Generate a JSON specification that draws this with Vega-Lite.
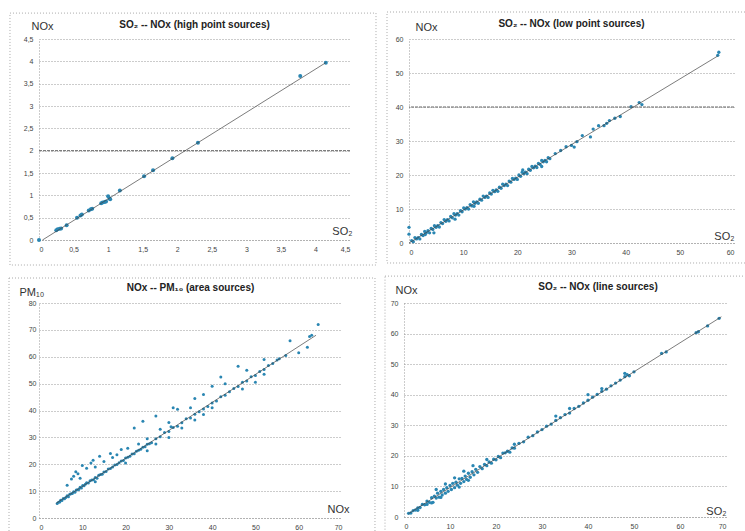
{
  "$schema": "https://vega.github.io/schema/vega-lite/v6.json",
  "autosize": {"type": "pad"},
  "padding": {"left": 8, "top": 11, "right": 0, "bottom": 0},
  "background": "white",
  "config": {
    "font": "Liberation Sans",
    "view": {"stroke": null},
    "axis": {
      "labelFont": "Liberation Sans",
      "labelFontSize": 7,
      "labelColor": "#444",
      "labelOverlap": false,
      "tickCount": 30,
      "ticks": false,
      "domainColor": "#999",
      "domainDash": [1, 2],
      "gridColor": "#999",
      "gridDash": [1, 2],
      "gridWidth": 1,
      "titleFont": "Liberation Sans",
      "titleFontWeight": "normal",
      "titleFontSize": 11,
      "titleColor": "#333"
    },
    "axisX": {"grid": false, "labelPadding": 5},
    "axisY": {"grid": true, "labelPadding": 6, "titleAngle": 0, "titleAlign": "left", "titleBaseline": "alphabetic"},
    "title": {"font": "Liberation Sans", "fontSize": 10, "fontWeight": "bold", "color": "#222", "frame": "group", "anchor": "middle"}
  },
  "datasets": {
    "one": [{}],
    "p1": [
      {"so2": 0, "nox": 0}, {"so2": 0.25, "nox": 0.22}, {"so2": 0.27, "nox": 0.24}, {"so2": 0.3, "nox": 0.25}, {"so2": 0.32, "nox": 0.26},
      {"so2": 0.4, "nox": 0.33}, {"so2": 0.55, "nox": 0.5}, {"so2": 0.6, "nox": 0.55}, {"so2": 0.62, "nox": 0.57}, {"so2": 0.72, "nox": 0.66},
      {"so2": 0.75, "nox": 0.69}, {"so2": 0.77, "nox": 0.7}, {"so2": 0.9, "nox": 0.82}, {"so2": 0.92, "nox": 0.84}, {"so2": 0.95, "nox": 0.85},
      {"so2": 0.97, "nox": 0.86}, {"so2": 1.0, "nox": 0.98}, {"so2": 1.02, "nox": 0.93}, {"so2": 1.03, "nox": 0.91}, {"so2": 1.17, "nox": 1.11},
      {"so2": 1.52, "nox": 1.43}, {"so2": 1.65, "nox": 1.56}, {"so2": 1.93, "nox": 1.83}, {"so2": 2.3, "nox": 2.18}, {"so2": 3.78, "nox": 3.67},
      {"so2": 4.15, "nox": 3.97}
    ],
    "l1": [{"so2": 0.05, "nox": 0}, {"so2": 4.15, "nox": 3.97}],
    "p2": [
      {"so2": 0.5, "nox": 0.7}, {"so2": 0.8, "nox": 0.4}, {"so2": 1.1, "nox": 1.6}, {"so2": 1.4, "nox": 1.2}, {"so2": 1.7, "nox": 1.6},
      {"so2": 2.0, "nox": 1.2}, {"so2": 2.3, "nox": 2.5}, {"so2": 2.6, "nox": 2.2}, {"so2": 2.9, "nox": 3.4}, {"so2": 3.2, "nox": 3.0},
      {"so2": 3.5, "nox": 3.6}, {"so2": 3.8, "nox": 3.0}, {"so2": 4.1, "nox": 4.3}, {"so2": 4.4, "nox": 4.0}, {"so2": 4.7, "nox": 5.1},
      {"so2": 5.0, "nox": 4.6}, {"so2": 5.3, "nox": 5.1}, {"so2": 5.6, "nox": 4.7}, {"so2": 5.9, "nox": 6.0}, {"so2": 6.2, "nox": 5.7},
      {"so2": 6.5, "nox": 6.9}, {"so2": 6.8, "nox": 6.4}, {"so2": 7.1, "nox": 6.9}, {"so2": 7.4, "nox": 6.5}, {"so2": 7.7, "nox": 7.8},
      {"so2": 8.0, "nox": 7.4}, {"so2": 8.3, "nox": 8.6}, {"so2": 8.6, "nox": 8.2}, {"so2": 8.9, "nox": 8.6}, {"so2": 9.2, "nox": 8.2},
      {"so2": 9.5, "nox": 9.5}, {"so2": 9.8, "nox": 9.2}, {"so2": 10.1, "nox": 10.3}, {"so2": 10.4, "nox": 10.0}, {"so2": 10.7, "nox": 10.4},
      {"so2": 11.0, "nox": 10.0}, {"so2": 11.3, "nox": 11.3}, {"so2": 11.6, "nox": 10.9}, {"so2": 11.9, "nox": 12.1}, {"so2": 12.2, "nox": 11.7},
      {"so2": 12.5, "nox": 12.1}, {"so2": 12.8, "nox": 11.7}, {"so2": 13.1, "nox": 12.9}, {"so2": 13.4, "nox": 12.6}, {"so2": 13.7, "nox": 13.8},
      {"so2": 14.0, "nox": 13.4}, {"so2": 14.3, "nox": 13.8}, {"so2": 14.6, "nox": 13.4}, {"so2": 14.9, "nox": 14.7}, {"so2": 15.2, "nox": 14.4},
      {"so2": 15.5, "nox": 15.5}, {"so2": 15.8, "nox": 15.1}, {"so2": 16.1, "nox": 15.6}, {"so2": 16.4, "nox": 15.2}, {"so2": 16.7, "nox": 16.4},
      {"so2": 17.0, "nox": 16.1}, {"so2": 17.3, "nox": 17.3}, {"so2": 17.6, "nox": 16.9}, {"so2": 17.9, "nox": 17.3}, {"so2": 18.2, "nox": 16.9},
      {"so2": 18.5, "nox": 18.2}, {"so2": 18.8, "nox": 17.9}, {"so2": 19.1, "nox": 19.0}, {"so2": 19.4, "nox": 18.7}, {"so2": 19.7, "nox": 19.1},
      {"so2": 20.0, "nox": 18.7}, {"so2": 20.3, "nox": 20.0}, {"so2": 20.6, "nox": 19.6}, {"so2": 20.9, "nox": 20.8}, {"so2": 21.2, "nox": 20.4},
      {"so2": 21.5, "nox": 20.8}, {"so2": 21.8, "nox": 20.4}, {"so2": 22.1, "nox": 21.7}, {"so2": 22.4, "nox": 21.4}, {"so2": 22.7, "nox": 22.5},
      {"so2": 23.0, "nox": 22.1}, {"so2": 23.3, "nox": 22.6}, {"so2": 23.6, "nox": 22.2}, {"so2": 23.9, "nox": 23.4}, {"so2": 24.2, "nox": 23.1},
      {"so2": 24.5, "nox": 24.3}, {"so2": 24.8, "nox": 23.9}, {"so2": 25.1, "nox": 24.3}, {"so2": 25.4, "nox": 23.9}, {"so2": 25.7, "nox": 25.1},
      {"so2": 26.0, "nox": 24.8}, {"so2": 3.0, "nox": 2.5}, {"so2": 4.6, "nox": 3.0}, {"so2": 8.5, "nox": 7.0}, {"so2": 12.0, "nox": 10.8},
      {"so2": 21.0, "nox": 21.5}, {"so2": 24.5, "nox": 22.5}, {"so2": 0, "nox": 4.6}, {"so2": 0, "nox": 2.6}, {"so2": 27.0, "nox": 26.3},
      {"so2": 28.0, "nox": 27.2}, {"so2": 29.0, "nox": 28.3}, {"so2": 30.0, "nox": 28.7}, {"so2": 30.5, "nox": 28.2}, {"so2": 31.0, "nox": 29.8},
      {"so2": 32.0, "nox": 31.6}, {"so2": 33.5, "nox": 31.2}, {"so2": 34.0, "nox": 33.5}, {"so2": 35.0, "nox": 34.5}, {"so2": 36.0, "nox": 34.5},
      {"so2": 36.5, "nox": 35.2}, {"so2": 37.0, "nox": 36.0}, {"so2": 38.0, "nox": 36.7}, {"so2": 39.0, "nox": 37.2}, {"so2": 41.0, "nox": 40.1},
      {"so2": 42.5, "nox": 41.3}, {"so2": 43.0, "nox": 40.7}, {"so2": 57.0, "nox": 55.2}, {"so2": 57.2, "nox": 56.1}
    ],
    "l2": [{"so2": 0, "nox": 0}, {"so2": 57, "nox": 55}],
    "p3": [
      {"nox": 4.2, "pm10": 5.4}, {"nox": 4.5, "pm10": 5.9}, {"nox": 4.8, "pm10": 6.0}, {"nox": 5.0, "pm10": 6.6}, {"nox": 5.3, "pm10": 6.5},
      {"nox": 5.6, "pm10": 7.3}, {"nox": 5.9, "pm10": 7.2}, {"nox": 6.2, "pm10": 7.6}, {"nox": 6.5, "pm10": 8.3}, {"nox": 6.8, "pm10": 7.9},
      {"nox": 7.1, "pm10": 8.8}, {"nox": 7.4, "pm10": 9.0}, {"nox": 7.7, "pm10": 9.1}, {"nox": 8.0, "pm10": 9.8}, {"nox": 8.3, "pm10": 9.6},
      {"nox": 8.6, "pm10": 10.4}, {"nox": 8.9, "pm10": 10.5}, {"nox": 9.2, "pm10": 10.6}, {"nox": 9.5, "pm10": 11.4}, {"nox": 9.8, "pm10": 11.2},
      {"nox": 10.1, "pm10": 12.1}, {"nox": 10.4, "pm10": 12.0}, {"nox": 10.7, "pm10": 12.6}, {"nox": 11.0, "pm10": 13.1}, {"nox": 11.4, "pm10": 13.0},
      {"nox": 11.8, "pm10": 13.9}, {"nox": 12.2, "pm10": 14.1}, {"nox": 12.6, "pm10": 14.2}, {"nox": 13.0, "pm10": 15.1}, {"nox": 13.4, "pm10": 14.8},
      {"nox": 13.8, "pm10": 15.9}, {"nox": 14.2, "pm10": 16.2}, {"nox": 14.6, "pm10": 16.3}, {"nox": 15.0, "pm10": 17.1}, {"nox": 15.5, "pm10": 17.3},
      {"nox": 16.0, "pm10": 18.2}, {"nox": 16.5, "pm10": 18.4}, {"nox": 17.0, "pm10": 19.0}, {"nox": 17.5, "pm10": 19.7}, {"nox": 18.0, "pm10": 19.9},
      {"nox": 18.5, "pm10": 20.6}, {"nox": 19.0, "pm10": 21.2}, {"nox": 19.5, "pm10": 21.4}, {"nox": 20.0, "pm10": 22.3}, {"nox": 20.5, "pm10": 22.6},
      {"nox": 21.0, "pm10": 23.0}, {"nox": 21.5, "pm10": 23.8}, {"nox": 22.0, "pm10": 23.9}, {"nox": 22.5, "pm10": 24.8}, {"nox": 23.0, "pm10": 25.2},
      {"nox": 23.5, "pm10": 25.6}, {"nox": 24.0, "pm10": 26.3}, {"nox": 24.5, "pm10": 26.5}, {"nox": 25.0, "pm10": 27.4}, {"nox": 25.5, "pm10": 27.6},
      {"nox": 26.0, "pm10": 28.0}, {"nox": 27.0, "pm10": 29.5}, {"nox": 28.0, "pm10": 30.2}, {"nox": 29.0, "pm10": 31.8}, {"nox": 30.0, "pm10": 32.2},
      {"nox": 31.0, "pm10": 33.7}, {"nox": 32.0, "pm10": 34.1}, {"nox": 33.0, "pm10": 35.4}, {"nox": 34.0, "pm10": 36.9}, {"nox": 35.0, "pm10": 37.2},
      {"nox": 36.0, "pm10": 38.6}, {"nox": 37.0, "pm10": 39.5}, {"nox": 38.0, "pm10": 40.6}, {"nox": 39.0, "pm10": 41.5}, {"nox": 40.0, "pm10": 42.8},
      {"nox": 41.0, "pm10": 43.5}, {"nox": 42.0, "pm10": 45.1}, {"nox": 43.0, "pm10": 45.7}, {"nox": 44.0, "pm10": 47.0}, {"nox": 45.0, "pm10": 48.2},
      {"nox": 46.0, "pm10": 48.9}, {"nox": 47.0, "pm10": 50.5}, {"nox": 48.0, "pm10": 51.0}, {"nox": 49.0, "pm10": 52.6}, {"nox": 50.0, "pm10": 53.0},
      {"nox": 51.0, "pm10": 54.5}, {"nox": 52.0, "pm10": 55.3}, {"nox": 53.0, "pm10": 56.7}, {"nox": 54.0, "pm10": 57.5}, {"nox": 55.0, "pm10": 58.8},
      {"nox": 55.5, "pm10": 59.3},
      {"nox": 6.5, "pm10": 12.2}, {"nox": 7.5, "pm10": 14.5}, {"nox": 8.0, "pm10": 15.5}, {"nox": 9.0, "pm10": 16.5}, {"nox": 9.5, "pm10": 14.8},
      {"nox": 8.5, "pm10": 17.2}, {"nox": 10.0, "pm10": 19.5}, {"nox": 11.0, "pm10": 18.5}, {"nox": 12.0, "pm10": 20.5}, {"nox": 13.0, "pm10": 19.0},
      {"nox": 14.0, "pm10": 23.0}, {"nox": 12.5, "pm10": 21.5}, {"nox": 15.0, "pm10": 21.0}, {"nox": 16.5, "pm10": 24.0}, {"nox": 17.0, "pm10": 22.5},
      {"nox": 18.0, "pm10": 23.5}, {"nox": 19.0, "pm10": 25.5}, {"nox": 20.5, "pm10": 26.0}, {"nox": 22.0, "pm10": 33.5}, {"nox": 23.0, "pm10": 27.5},
      {"nox": 24.0, "pm10": 36.0}, {"nox": 25.0, "pm10": 29.5}, {"nox": 27.0, "pm10": 38.0}, {"nox": 28.0, "pm10": 33.0}, {"nox": 30.0, "pm10": 35.5},
      {"nox": 31.0, "pm10": 41.0}, {"nox": 32.0, "pm10": 40.5}, {"nox": 35.0, "pm10": 41.0}, {"nox": 36.0, "pm10": 44.5}, {"nox": 38.0, "pm10": 46.0},
      {"nox": 40.0, "pm10": 49.0}, {"nox": 42.0, "pm10": 52.5}, {"nox": 43.0, "pm10": 50.0}, {"nox": 46.0, "pm10": 56.5}, {"nox": 48.0, "pm10": 55.0},
      {"nox": 52.0, "pm10": 59.0}, {"nox": 58.0, "pm10": 66.0}, {"nox": 62.0, "pm10": 63.5}, {"nox": 62.5, "pm10": 67.5}, {"nox": 63.0, "pm10": 68.0},
      {"nox": 64.5, "pm10": 72.0}, {"nox": 57.0, "pm10": 60.5}, {"nox": 60.0, "pm10": 61.5},
      {"nox": 25.0, "pm10": 25.0}, {"nox": 27.0, "pm10": 27.5}, {"nox": 30.0, "pm10": 30.0}, {"nox": 33.0, "pm10": 33.5}, {"nox": 36.0, "pm10": 36.5},
      {"nox": 38.0, "pm10": 38.5}, {"nox": 40.0, "pm10": 41.0}, {"nox": 47.0, "pm10": 48.0}, {"nox": 50.0, "pm10": 50.5}, {"nox": 52.0, "pm10": 53.5},
      {"nox": 13.0, "pm10": 13.5}, {"nox": 20.0, "pm10": 20.5}, {"nox": 30.5, "pm10": 34.0}
    ],
    "l3": [{"nox": 4, "pm10": 5.5}, {"nox": 64, "pm10": 68}],
    "p4": [
      {"so2": 1.0, "nox": 1.2}, {"so2": 1.5, "nox": 1.3}, {"so2": 2.0, "nox": 2.1}, {"so2": 2.5, "nox": 2.3}, {"so2": 3.0, "nox": 3.0},
      {"so2": 3.5, "nox": 3.1}, {"so2": 4.0, "nox": 4.1}, {"so2": 4.5, "nox": 4.0}, {"so2": 5.0, "nox": 5.2}, {"so2": 5.5, "nox": 4.8},
      {"so2": 6.0, "nox": 6.3}, {"so2": 6.3, "nox": 4.8}, {"so2": 6.6, "nox": 6.8}, {"so2": 7.0, "nox": 6.2}, {"so2": 7.3, "nox": 7.8},
      {"so2": 7.6, "nox": 6.5}, {"so2": 8.0, "nox": 8.4}, {"so2": 8.3, "nox": 7.2}, {"so2": 8.6, "nox": 9.0}, {"so2": 9.0, "nox": 7.8},
      {"so2": 9.3, "nox": 9.6}, {"so2": 9.6, "nox": 8.4}, {"so2": 10.0, "nox": 10.3}, {"so2": 10.3, "nox": 9.0}, {"so2": 10.6, "nox": 11.0},
      {"so2": 11.0, "nox": 9.6}, {"so2": 11.3, "nox": 11.4}, {"so2": 11.6, "nox": 10.4}, {"so2": 12.0, "nox": 12.5}, {"so2": 12.3, "nox": 11.0},
      {"so2": 12.6, "nox": 12.6}, {"so2": 13.0, "nox": 11.6}, {"so2": 13.3, "nox": 13.4}, {"so2": 13.6, "nox": 12.3}, {"so2": 14.0, "nox": 14.3},
      {"so2": 14.4, "nox": 13.0}, {"so2": 14.8, "nox": 14.8}, {"so2": 15.2, "nox": 13.8}, {"so2": 15.6, "nox": 15.6}, {"so2": 16.0, "nox": 14.6},
      {"so2": 16.5, "nox": 16.5}, {"so2": 17.0, "nox": 15.8}, {"so2": 17.5, "nox": 17.2}, {"so2": 18.0, "nox": 16.8}, {"so2": 18.5, "nox": 18.0},
      {"so2": 19.0, "nox": 17.6}, {"so2": 19.5, "nox": 18.9}, {"so2": 20.0, "nox": 18.7}, {"so2": 20.5, "nox": 19.8}, {"so2": 21.0, "nox": 19.4},
      {"so2": 21.5, "nox": 20.9}, {"so2": 22.0, "nox": 21.0}, {"so2": 22.5, "nox": 21.5}, {"so2": 23.0, "nox": 21.2}, {"so2": 23.5, "nox": 22.6},
      {"so2": 24.0, "nox": 22.5}, {"so2": 25.0, "nox": 24.1}, {"so2": 26.0, "nox": 24.6}, {"so2": 27.0, "nox": 26.1}, {"so2": 28.0, "nox": 26.6},
      {"so2": 29.0, "nox": 27.8}, {"so2": 30.0, "nox": 28.6}, {"so2": 31.0, "nox": 29.7}, {"so2": 32.0, "nox": 30.4}, {"so2": 33.0, "nox": 31.6},
      {"so2": 34.0, "nox": 32.5}, {"so2": 35.0, "nox": 33.5}, {"so2": 36.0, "nox": 34.0}, {"so2": 37.0, "nox": 35.5}, {"so2": 38.0, "nox": 36.2},
      {"so2": 39.0, "nox": 37.3}, {"so2": 40.0, "nox": 38.2}, {"so2": 41.0, "nox": 39.2}, {"so2": 42.0, "nox": 40.1}, {"so2": 43.0, "nox": 41.1},
      {"so2": 44.0, "nox": 41.8}, {"so2": 45.0, "nox": 42.9}, {"so2": 46.0, "nox": 43.8}, {"so2": 47.0, "nox": 44.8}, {"so2": 48.0, "nox": 45.9},
      {"so2": 48.5, "nox": 46.6}, {"so2": 49.0, "nox": 46.2},
      {"so2": 7.0, "nox": 9.0}, {"so2": 9.0, "nox": 10.8}, {"so2": 11.0, "nox": 12.8}, {"so2": 13.0, "nox": 15.0}, {"so2": 15.0, "nox": 16.8},
      {"so2": 12.0, "nox": 9.8}, {"so2": 14.0, "nox": 12.0}, {"so2": 18.0, "nox": 18.8}, {"so2": 24.0, "nox": 23.8}, {"so2": 33.0, "nox": 33.0},
      {"so2": 36.0, "nox": 35.5}, {"so2": 40.0, "nox": 40.0}, {"so2": 43.0, "nox": 42.0}, {"so2": 48.0, "nox": 47.0}, {"so2": 50.0, "nox": 47.5},
      {"so2": 56.0, "nox": 53.5}, {"so2": 57.0, "nox": 54.0}, {"so2": 63.5, "nox": 60.3}, {"so2": 64.0, "nox": 60.6}, {"so2": 66.0, "nox": 62.5},
      {"so2": 68.5, "nox": 65.0}, {"so2": 3.0, "nox": 2.2}, {"so2": 5.0, "nox": 4.1}, {"so2": 6.0, "nox": 4.6}, {"so2": 8.0, "nox": 6.4}
    ],
    "l4": [{"so2": 1, "nox": 1.1}, {"so2": 69, "nox": 65.5}]
  },
  "spacing": 9,
  "vconcat": [
    {
      "spacing": 9,
      "hconcat": [
        {
          "width": 311, "height": 201,
          "title": {"text": "SO₂ -- NOx  (high point sources)", "offset": -17},
          "layer": [
            {
              "data": {"name": "p1"},
              "mark": {"type": "circle", "size": 16, "color": "#2a86b2", "opacity": 1},
              "encoding": {
                "x": {"field": "so2", "type": "quantitative", "scale": {"domain": [0, 4.5], "nice": false},
                  "axis": {"title": "SO₂", "values": [0, 0.5, 1, 1.5, 2, 2.5, 3, 3.5, 4, 4.5], "tickCount": 30, "labelExpr": "replace(format(datum.value, '~g'), '.', ',')",
                    "titleX": 313, "titleY": -6, "titleAlign": "right", "titleBaseline": "alphabetic"}},
                "y": {"field": "nox", "type": "quantitative", "scale": {"domain": [0, 4.5], "nice": false},
                  "axis": {"title": "NOx", "values": [0, 0.5, 1, 1.5, 2, 2.5, 3, 3.5, 4, 4.5], "tickCount": 30, "labelExpr": "replace(format(datum.value, '~g'), '.', ',')",
                    "titleX": -8, "titleY": -10}}
              }
            },
            {
              "data": {"name": "one"},
              "mark": {"type": "rule", "color": "#666", "strokeWidth": 1, "strokeDash": [3, 1]},
              "encoding": {"y": {"datum": 2, "type": "quantitative"}}
            },
            {
              "data": {"name": "l1"},
              "mark": {"type": "line", "color": "#444", "strokeWidth": 0.7},
              "encoding": {"x": {"field": "so2", "type": "quantitative"}, "y": {"field": "nox", "type": "quantitative"}}
            },
            {
              "data": {"name": "one"},
              "mark": {"type": "rect", "fill": null, "fillOpacity": 0, "stroke": "#aaa", "strokeWidth": 1, "strokeDash": [1, 2], "clip": false},
              "encoding": {"x": {"datum": -0.42, "type": "quantitative"}, "x2": {"datum": 4.876}, "y": {"datum": 5.08, "type": "quantitative"}, "y2": {"datum": -0.56}}
            }
          ]
        },
        {
          "width": 325, "height": 204,
          "title": {"text": "SO₂ -- NOx  (low point sources)", "offset": -17},
          "layer": [
            {
              "data": {"name": "p2"},
              "mark": {"type": "circle", "size": 11, "color": "#2a86b2", "opacity": 1},
              "encoding": {
                "x": {"field": "so2", "type": "quantitative", "scale": {"domain": [0, 60], "nice": false},
                  "axis": {"title": "SO₂", "values": [0, 10, 20, 30, 40, 50, 60], "tickCount": 30,
                    "titleX": 325, "titleY": -4, "titleAlign": "right", "titleBaseline": "alphabetic"}},
                "y": {"field": "nox", "type": "quantitative", "scale": {"domain": [0, 60], "nice": false},
                  "axis": {"title": "NOx", "values": [0, 10, 20, 30, 40, 50, 60], "tickCount": 30, "titleX": 6, "titleY": -9}}
              }
            },
            {
              "data": {"name": "one"},
              "mark": {"type": "rule", "color": "#666", "strokeWidth": 1, "strokeDash": [3, 1]},
              "encoding": {"y": {"datum": 40, "type": "quantitative"}}
            },
            {
              "data": {"name": "l2"},
              "mark": {"type": "line", "color": "#444", "strokeWidth": 0.7},
              "encoding": {"x": {"field": "so2", "type": "quantitative"}, "y": {"field": "nox", "type": "quantitative"}}
            },
            {
              "data": {"name": "one"},
              "mark": {"type": "rect", "fill": null, "fillOpacity": 0, "stroke": "#aaa", "strokeWidth": 1, "strokeDash": [1, 2], "clip": false},
              "encoding": {"x": {"datum": -4.06, "type": "quantitative"}, "x2": {"datum": 63.7}, "y": {"datum": 67.94, "type": "quantitative"}, "y2": {"datum": -5.88}}
            }
          ]
        }
      ]
    },
    {
      "spacing": 8,
      "hconcat": [
        {
          "width": 303, "height": 215,
          "title": {"text": "NOx -- PM₁₀  (area sources)", "offset": -15},
          "layer": [
            {
              "data": {"name": "p3"},
              "mark": {"type": "circle", "size": 9, "color": "#2a86b2", "opacity": 1},
              "encoding": {
                "x": {"field": "nox", "type": "quantitative", "scale": {"domain": [0, 70], "nice": false},
                  "axis": {"title": "NOx", "values": [0, 10, 20, 30, 40, 50, 60, 70], "tickCount": 30,
                    "titleX": 310, "titleY": -6, "titleAlign": "right", "titleBaseline": "alphabetic"}},
                "y": {"field": "pm10", "type": "quantitative", "scale": {"domain": [0, 80], "nice": false},
                  "axis": {"title": "PM₁₀", "values": [0, 10, 20, 30, 40, 50, 60, 70, 80], "tickCount": 30, "titleX": -20, "titleY": -8, "labelPadding": 3}}
              }
            },
            {
              "data": {"name": "l3"},
              "mark": {"type": "line", "color": "#444", "strokeWidth": 0.7},
              "encoding": {"x": {"field": "nox", "type": "quantitative"}, "y": {"field": "pm10", "type": "quantitative"}}
            },
            {
              "data": {"name": "one"},
              "mark": {"type": "rect", "fill": null, "fillOpacity": 0, "stroke": "#aaa", "strokeWidth": 1, "strokeDash": [1, 2], "clip": false},
              "encoding": {"x": {"datum": -6.93, "type": "quantitative"}, "x2": {"datum": 77.62}, "y": {"datum": 89.3, "type": "quantitative"}, "y2": {"datum": -6.33}}
            }
          ]
        },
        {
          "width": 322, "height": 214,
          "title": {"text": "SO₂ -- NOx  (line sources)", "offset": -16, "dx": 33},
          "layer": [
            {
              "data": {"name": "p4"},
              "mark": {"type": "circle", "size": 11, "color": "#2a86b2", "opacity": 1},
              "encoding": {
                "x": {"field": "so2", "type": "quantitative", "scale": {"domain": [0, 70], "nice": false},
                  "axis": {"title": "SO₂", "values": [0, 10, 20, 30, 40, 50, 60, 70], "tickCount": 30,
                    "titleX": 322, "titleY": -3, "titleAlign": "right", "titleBaseline": "alphabetic"}},
                "y": {"field": "nox", "type": "quantitative", "scale": {"domain": [0, 70], "nice": false},
                  "axis": {"title": "NOx", "values": [0, 10, 20, 30, 40, 50, 60, 70], "tickCount": 30, "titleX": -9, "titleY": -10}}
              }
            },
            {
              "data": {"name": "l4"},
              "mark": {"type": "line", "color": "#444", "strokeWidth": 0.7},
              "encoding": {"x": {"field": "so2", "type": "quantitative"}, "y": {"field": "nox", "type": "quantitative"}}
            },
            {
              "data": {"name": "one"},
              "mark": {"type": "rect", "fill": null, "fillOpacity": 0, "stroke": "#aaa", "strokeWidth": 1, "strokeDash": [1, 2], "clip": false},
              "encoding": {"x": {"datum": -4.13, "type": "quantitative"}, "x2": {"datum": 75}, "y": {"datum": 78.8, "type": "quantitative"}, "y2": {"datum": -6.5}}
            }
          ]
        }
      ]
    }
  ]
}
